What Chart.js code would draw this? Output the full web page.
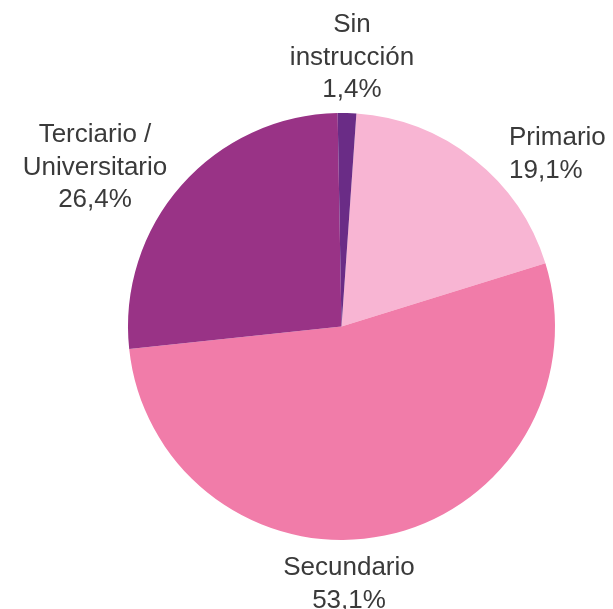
<!DOCTYPE html>
<html>
<head>
<meta charset="utf-8">
<script src="https://cdn.jsdelivr.net/npm/chart.js@4"></script>
<style>
html,body{margin:0;padding:0;background:#fff;}
#c{display:block;}
</style>
</head>
<body>
<canvas id="c" width="613" height="609"></canvas>
<script>
const categories = ["Primario", "Secundario", "Terciario / Universitario", "Sin instrucción"];
const categoryLines = [["Primario"], ["Secundario"], ["Terciario /", "Universitario"], ["Sin", "instrucción"]];
const values = [19.1, 53.1, 26.4, 1.4];
const colors = ["#f8b5d3", "#f17ca9", "#993386", "#6a2c86"];

// label placement: x, first baseline y, alignment
const labelLayout = [
  {x: 509, y: 145, align: "left"},
  {x: 349, y: 575, align: "center"},
  {x: 95,  y: 142, align: "center"},
  {x: 352, y: 32,  align: "center"}
];

const labelPlugin = {
  id: "sliceLabels",
  afterDraw(chart) {
    const ctx = chart.ctx;
    ctx.save();
    ctx.font = "26px 'Liberation Sans', Arial, sans-serif";
    ctx.fillStyle = "#3a3a3a";
    ctx.textBaseline = "alphabetic";
    const lineH = 32.5;
    chart.data.datasets[0].data.forEach((v, i) => {
      const lay = labelLayout[i];
      const lines = categoryLines[i].concat([v.toFixed(1).replace(".", ",") + "%"]);
      ctx.textAlign = lay.align;
      lines.forEach((t, k) => ctx.fillText(t, lay.x, lay.y + k * lineH));
    });
    ctx.restore();
  }
};

new Chart(document.getElementById("c"), {
  type: "pie",
  data: {
    labels: categories,
    datasets: [{
      data: values,
      backgroundColor: colors,
      borderWidth: 0
    }]
  },
  options: {
    responsive: false,
    animation: false,
    rotation: 4,
    layout: {padding: {left: 128, right: 58, top: 113, bottom: 69}},
    plugins: {legend: {display: false}, tooltip: {enabled: false}}
  },
  plugins: [labelPlugin]
});
</script>
</body>
</html>
